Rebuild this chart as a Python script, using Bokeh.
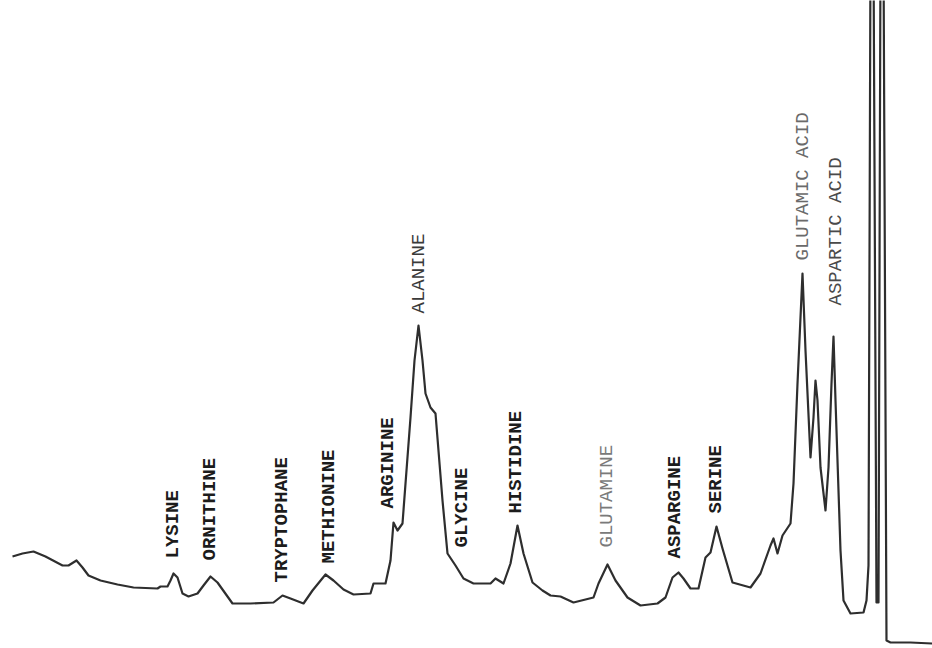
import math
from bokeh.plotting import figure
from bokeh.models import Range1d, ColumnDataSource
from bokeh.core.properties import value
from bokeh.embed import file_html
from bokeh.resources import INLINE

# Chromatogram trace (time units, detector signal)
time = [12, 22, 33, 45, 62, 68, 76, 82, 88, 100, 117, 133, 157, 160, 167, 170,
        173, 177, 182, 188, 197, 203, 210, 217, 232, 250, 273, 282, 290, 303,
        312, 325, 333, 343, 353, 370, 373, 385, 390, 393, 397, 402, 410, 414,
        418, 422, 425, 430, 435, 442, 447, 455, 463, 473, 490, 495, 503, 510,
        517, 523, 532, 542, 550, 560, 573, 593, 598, 607, 615, 627, 640, 657,
        665, 672, 678, 683, 690, 698, 705, 710, 716, 722, 732, 750, 760, 770,
        773, 777, 782, 790, 793, 797, 802, 805, 810, 813, 815, 817, 820, 825,
        828, 831, 833, 835, 840, 843, 850, 863, 866, 868, 870, 873, 876, 878,
        880, 883, 886, 890, 910, 932]
signal = [92, 95, 97, 92, 83, 83, 88, 81, 73, 68, 64, 61, 60, 62, 62, 68,
          75, 71, 55, 52, 55, 63, 72, 66, 45, 45, 46, 53, 50, 45,
          58, 74, 68, 59, 54, 55, 65, 65, 88, 126, 118, 125, 231, 288,
          323, 288, 255, 241, 235, 148, 95, 83, 70, 65, 65, 70, 65, 85,
          123, 95, 66, 58, 53, 52, 46, 51, 65, 84, 68, 51, 43, 45,
          51, 71, 76, 70, 60, 60, 91, 96, 122, 100, 66, 61, 75, 103,
          110, 95, 113, 125, 165, 265, 375, 298, 191, 231, 268, 248, 181, 138,
          181, 265, 312, 248, 98, 48, 35, 36, 48, 83, 700, 700, 46, 46,
          700, 700, 8, 6, 6, 5]

# Peak identifications
names = ["LYSINE", "ORNITHINE", "TRYPTOPHANE", "METHIONINE", "ARGININE",
         "ALANINE", "GLYCINE", "HISTIDINE", "GLUTAMINE", "ASPARGINE",
         "SERINE", "GLUTAMIC ACID", "ASPARTIC ACID"]
peak_time = [172, 209, 281, 328, 387, 418, 461, 515, 606, 674, 715, 802, 835]
label_base = [90, 88, 66, 85, 140, 335, 101, 135, 101, 90, 135, 388, 343]
dark = [True, True, True, True, True, False, True, True, False, True, True, False, False]
label_colors = ["#1c1c1c", "#1c1c1c", "#1c1c1c", "#1c1c1c", "#1c1c1c",
                "#3a3a3a", "#1c1c1c", "#1c1c1c", "#7a7a7a", "#1c1c1c",
                "#1c1c1c", "#6a6a6a", "#4a4a4a"]

p = figure(width=932, height=648, output_backend="svg", toolbar_location=None,
           x_range=Range1d(0, 932), y_range=Range1d(0, 648),
           min_border=0, outline_line_color=None,
           background_fill_color="white", border_fill_color="white")
p.xaxis.visible = False
p.yaxis.visible = False
p.grid.visible = False

p.line(time, signal, line_color="#2e2e2e", line_width=2.2, line_join="round")

def label_source(sel):
    return ColumnDataSource(dict(
        x=[peak_time[i] for i in sel],
        y=[label_base[i] for i in sel],
        t=[names[i] for i in sel],
        c=[label_colors[i] for i in sel],
    ))

bold_idx = [i for i in range(len(names)) if dark[i]]
light_idx = [i for i in range(len(names)) if not dark[i]]

p.text(x="x", y="y", text="t", source=label_source(bold_idx), angle=math.pi / 2,
       text_align="left", text_baseline="middle", text_color="c",
       text_font=value("Liberation Mono"), text_font_size="19px",
       text_font_style="bold")
p.text(x="x", y="y", text="t", source=label_source(light_idx), angle=math.pi / 2,
       text_align="left", text_baseline="middle", text_color="c",
       text_font=value("Liberation Mono"), text_font_size="19px",
       text_font_style="normal")

open("out.html", "w").write(file_html(p, INLINE))
